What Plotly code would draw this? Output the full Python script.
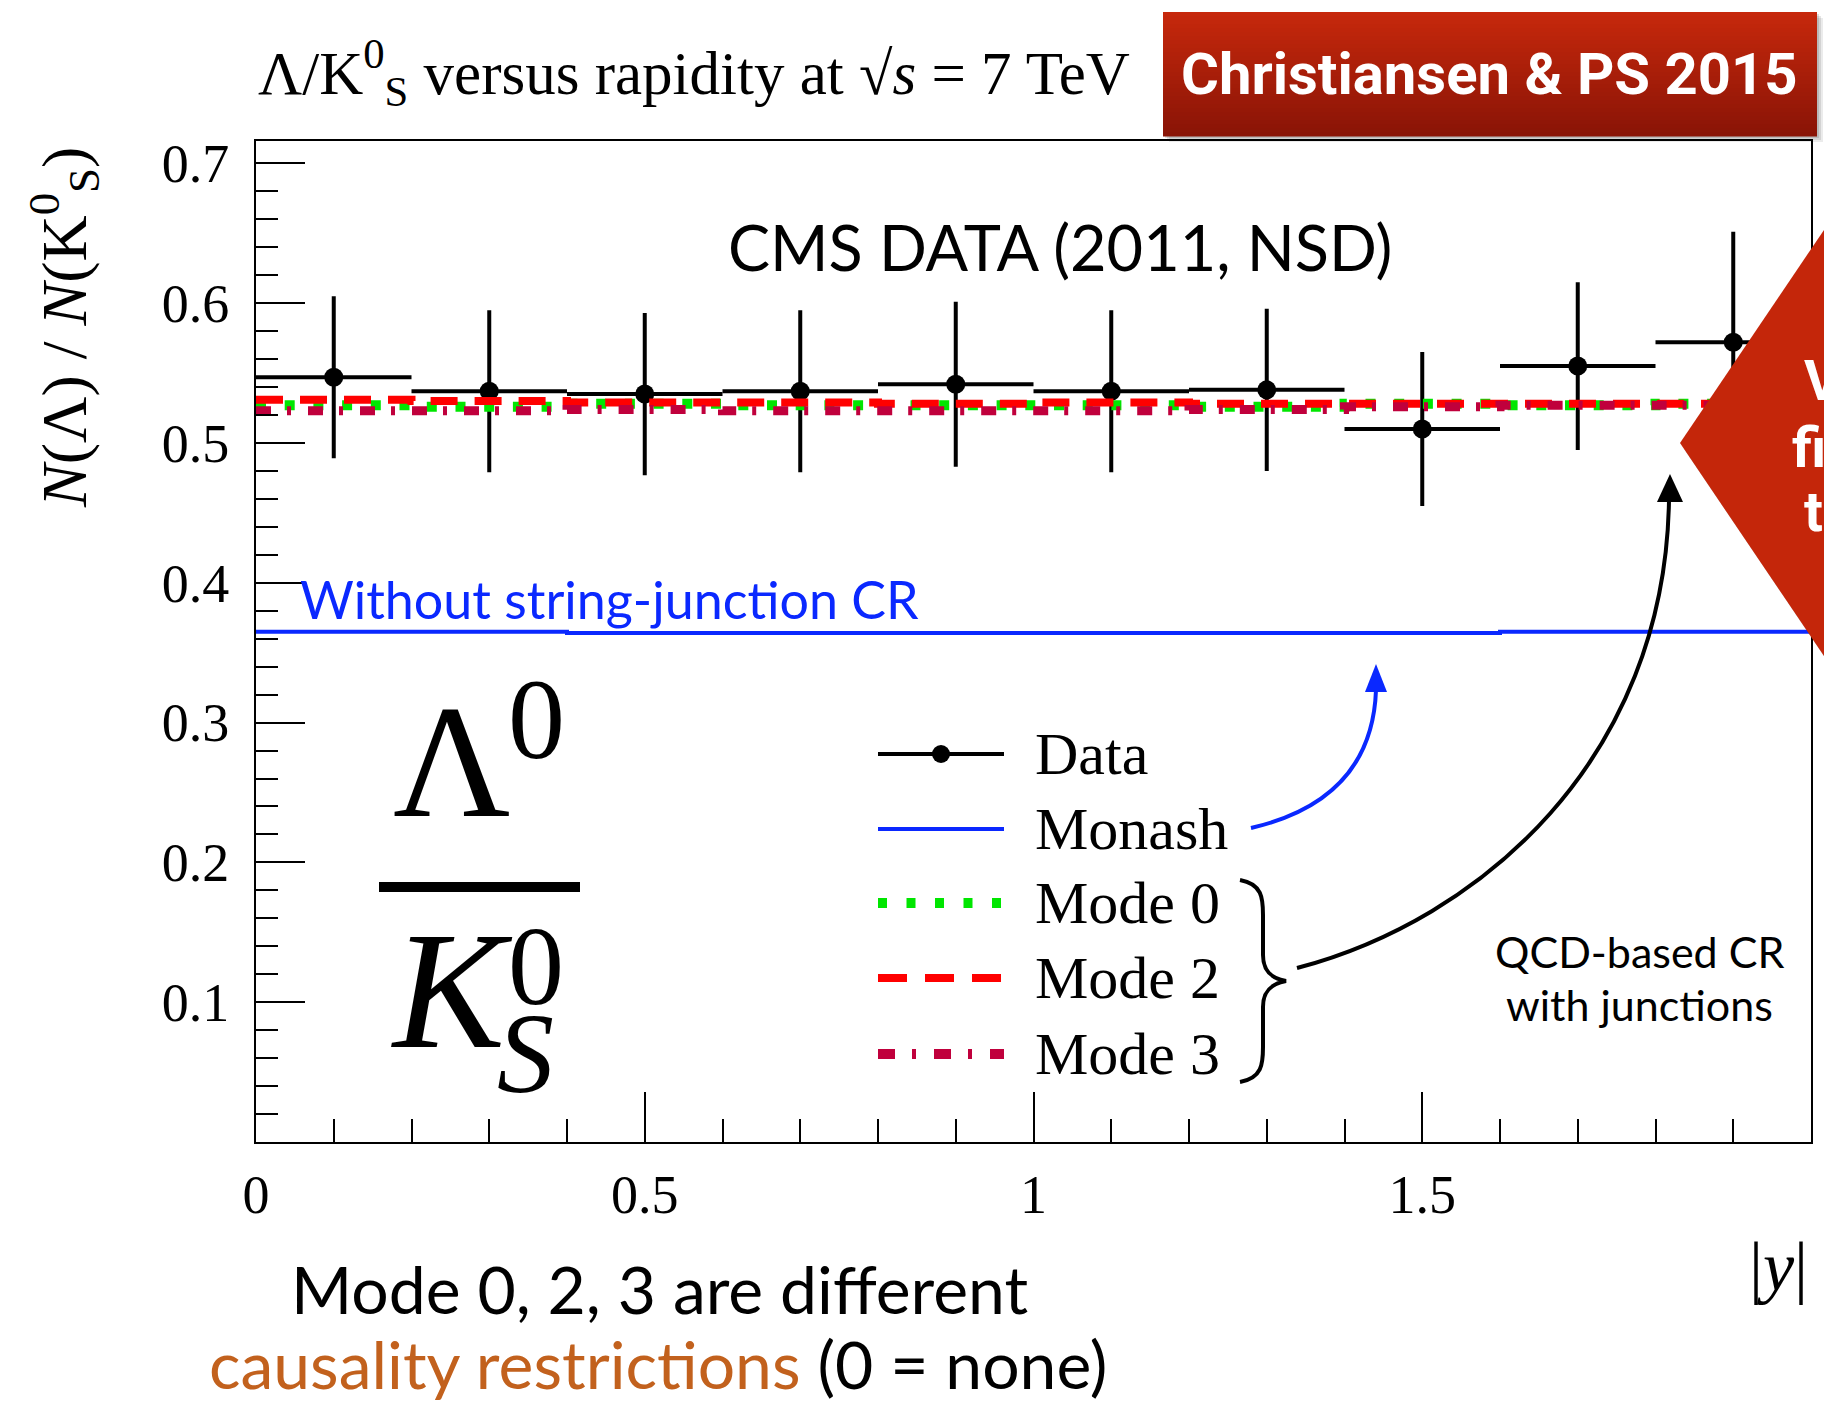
import plotly.graph_objects as go

# ---------------- data ----------------
bin_centers = [0.1, 0.3, 0.5, 0.7, 0.9, 1.1, 1.3, 1.5, 1.7, 1.9]
bin_edges = [0.0, 0.2, 0.4, 0.6, 0.8, 1.0, 1.2, 1.4, 1.6, 1.8, 2.0]
bin_halfwidth = 0.1

data_vals = [0.547, 0.537, 0.535, 0.537, 0.542, 0.537, 0.538, 0.510, 0.555, 0.572]
data_errs = [0.058, 0.058, 0.058, 0.058, 0.059, 0.058, 0.058, 0.055, 0.060, 0.079]

monash_vals = [0.365, 0.365, 0.364, 0.364, 0.364, 0.364, 0.364, 0.364, 0.365, 0.365]
mode0_vals = [0.527, 0.526, 0.528, 0.527, 0.527, 0.527, 0.526, 0.528, 0.527, 0.528]
mode2_vals = [0.531, 0.530, 0.529, 0.529, 0.528, 0.529, 0.528, 0.528, 0.528, 0.528]
mode3_vals = [0.523, 0.523, 0.524, 0.523, 0.523, 0.523, 0.524, 0.526, 0.527, 0.527]

x_tick_vals = [0, 0.5, 1, 1.5, 2]
x_tick_text = ["0", "0.5", "1", "1.5", "2"]
y_tick_vals = [0.1, 0.2, 0.3, 0.4, 0.5, 0.6, 0.7]
y_tick_text = ["0.1", "0.2", "0.3", "0.4", "0.5", "0.6", "0.7"]

legend_names = ["Data", "Monash", "Mode 0", "Mode 2", "Mode 3"]

# ---------------- styling ----------------
W, H = 1824, 1403
L, R, T, B = 256, 1811, 141, 1142
SERIF = "Liberation Serif"
SANS = "Lato"
BLUE = "#0a28ff"
GREEN = "#00e600"
RED = "#ff0000"
CRIMSON = "#c0003c"
BRICK = "#c4260a"
ORANGE = "#c2611d"


def px(x):
    return (x - L) / (R - L)


def py(y):
    return (B - y) / (B - T)


def step(vals):
    return vals + [vals[-1]]


fig = go.Figure()
fig.add_trace(go.Scatter(x=bin_edges, y=step(monash_vals), mode="lines",
                         line=dict(color=BLUE, width=4, shape="hv")))
fig.add_trace(go.Scatter(
    x=bin_centers, y=data_vals, mode="markers",
    marker=dict(color="black", size=19),
    error_y=dict(type="data", array=data_errs, symmetric=True, color="black", thickness=4, width=0),
    error_x=dict(type="constant", value=bin_halfwidth, color="black", thickness=4, width=0)))
fig.add_trace(go.Scatter(x=bin_edges, y=step(mode0_vals), mode="lines",
                         line=dict(color=GREEN, width=10, shape="hv", dash="10px,18.7px")))
fig.add_trace(go.Scatter(x=bin_edges, y=step(mode2_vals), mode="lines",
                         line=dict(color=RED, width=8, shape="hv", dash="27px,17px")))
fig.add_trace(go.Scatter(x=bin_edges, y=step(mode3_vals), mode="lines",
                         line=dict(color=CRIMSON, width=9, shape="hv", dash="15px,16px,4px,17px")))

shapes = []
annotations = []


def ann(text, x, y, size, family=SANS, color="black", xanchor="center", yanchor="middle", angle=0):
    annotations.append(dict(text=text, x=px(x), y=py(y), xref="paper", yref="paper",
                            showarrow=False, xanchor=xanchor, yanchor=yanchor, textangle=angle,
                            font=dict(family=family, size=size, color=color)))


def path(d, color, width=0, fill=None):
    s = dict(type="path", path=d, xref="paper", yref="paper", layer="above",
             line=dict(color=color, width=width))
    if fill:
        s["fillcolor"] = fill
    if width == 0:
        s["line"] = dict(width=0)
    shapes.append(s)


def P(x, y):
    return f"{px(x):.5f},{py(y):.5f}"


# red header box with shadow and vertical gradient
for off, a in [(6, 0.08), (4, 0.10), (2, 0.12)]:
    shapes.append(dict(type="rect", xref="paper", yref="paper", layer="above",
                       x0=px(1163 + off), x1=px(1817 + off), y0=py(12 + off), y1=py(136 + off),
                       line=dict(width=0), fillcolor=f"rgba(0,0,0,{a})"))
n_strips = 31
top_c, bot_c = (198, 40, 12), (138, 20, 6)
for i in range(n_strips):
    t = i / (n_strips - 1)
    c = tuple(round(top_c[k] + (bot_c[k] - top_c[k]) * t) for k in range(3))
    y0 = 12 + (136 - 12) * i / n_strips
    y1 = 12 + (136 - 12) * (i + 1) / n_strips
    shapes.append(dict(type="rect", xref="paper", yref="paper", layer="above",
                       x0=px(1163), x1=px(1817), y0=py(y0), y1=py(y1 + 0.6),
                       line=dict(width=0), fillcolor=f"rgb{c}"))

# diamond (with a soft shadow)
path(f"M {P(1684,449)} L {P(1984,5)} L {P(2284,449)} L {P(1984,893)} Z", "rgba(0,0,0,0)", 0,
     fill="rgba(0,0,0,0.18)")
path(f"M {P(1680,443)} L {P(1980,-1)} L {P(2280,443)} L {P(1980,887)} Z", BRICK, 0, fill=BRICK)

# fraction bar
shapes.append(dict(type="line", xref="paper", yref="paper", layer="above",
                   x0=px(379), x1=px(580), y0=py(887), y1=py(887), line=dict(color="black", width=10)))

# manual legend keys
leg_x0, leg_x1 = 878, 1004
leg_y = [754, 829, 903, 978, 1054]
shapes.append(dict(type="line", xref="paper", yref="paper", layer="above", x0=px(leg_x0), x1=px(leg_x1),
                   y0=py(leg_y[0]), y1=py(leg_y[0]), line=dict(color="black", width=4)))
shapes.append(dict(type="circle", xref="paper", yref="paper", layer="above",
                   x0=px(941 - 9), x1=px(941 + 9), y0=py(leg_y[0] - 9), y1=py(leg_y[0] + 9),
                   fillcolor="black", line=dict(width=0)))
shapes.append(dict(type="line", xref="paper", yref="paper", layer="above", x0=px(leg_x0), x1=px(leg_x1),
                   y0=py(leg_y[1]), y1=py(leg_y[1]), line=dict(color=BLUE, width=4)))
shapes.append(dict(type="line", xref="paper", yref="paper", layer="above", x0=px(leg_x0), x1=px(leg_x1),
                   y0=py(leg_y[2]), y1=py(leg_y[2]), line=dict(color=GREEN, width=10, dash="9px,19.5px")))
shapes.append(dict(type="line", xref="paper", yref="paper", layer="above", x0=px(leg_x0), x1=px(leg_x1),
                   y0=py(leg_y[3]), y1=py(leg_y[3]), line=dict(color=RED, width=8, dash="29px,18px")))
shapes.append(dict(type="line", xref="paper", yref="paper", layer="above", x0=px(leg_x0), x1=px(leg_x1),
                   y0=py(leg_y[4]), y1=py(leg_y[4]), line=dict(color=CRIMSON, width=10, dash="17px,17px,4px,18px")))
for name, yy in zip(legend_names, leg_y):
    ann(name, 1033, yy, 60, family=SERIF, xanchor="left")

# brace
path(f"M {P(1240,880)} C {P(1262,884)} {P(1263,898)} {P(1263,915)} L {P(1263,955)} "
     f"C {P(1263,970)} {P(1270,978)} {P(1286,981)} C {P(1270,984)} {P(1263,992)} {P(1263,1007)} "
     f"L {P(1263,1047)} C {P(1263,1064)} {P(1262,1078)} {P(1240,1082)}", "black", 4)

# blue curved arrow
path(f"M {P(1251,828)} Q {P(1372,800)} {P(1376,690)}", BLUE, 4)
path(f"M {P(1376,664)} L {P(1365,692)} L {P(1387,692)} Z", BLUE, 0, fill=BLUE)

# black curved arrow
path(f"M {P(1297,968)} C {P(1480,920)} {P(1665,760)} {P(1669,500)}", "black", 4)
path(f"M {P(1670,474)} L {P(1657,502)} L {P(1683,502)} Z", "black", 0, fill="black")

# ---------------- texts ----------------
ann("Λ/K<sup>0</sup><sub>S</sub> versus rapidity at √<i>s</i> = 7 TeV", 694, 72, 61, family=SERIF)
ann("<b>Christiansen & PS 2015</b>", 1489, 74, 58, family="Roboto", color="white")
ann("CMS DATA (2011, NSD)", 1060, 247, 63)
ann("Without string-junction CR", 298, 599, 52, color=BLUE, xanchor="left")
ann("Λ", 451, 761, 162, family=SERIF)
ann("0", 536, 719, 114, family=SERIF)
ann("<i>K</i>", 452, 990, 168, family=SERIF)
ann("0", 536, 966, 112, family=SERIF)
ann("<i>S</i>", 525, 1053, 114, family=SERIF)
ann("QCD-based CR", 1639, 951, 43)
ann("with junctions", 1639, 1004, 43)
ann("|<i>y</i>|", 1778, 1266, 70, family=SERIF)
ann("<i>N</i>(Λ) / <i>N</i>(K<sup>0</sup><sub>S</sub>)", 64, 328, 64, family=SERIF, angle=-90)
ann("Mode 0, 2, 3 are different", 289, 1288, 66, xanchor="left")
ann(f"<span style='color:{ORANGE}'>causality restrictions</span> (0 = none)", 207, 1363, 66, xanchor="left")
ann("<b>V</b>", 1802, 381, 56, family="Roboto", color="white", xanchor="left")
ann("<b>fi</b>", 1790, 448, 56, family="Roboto", color="white", xanchor="left")
ann("<b>t</b>", 1802, 512, 56, family="Roboto", color="white", xanchor="left")

axis_common = dict(showline=True, linecolor="black", linewidth=2, mirror=True, ticks="inside",
                   tickcolor="black", tickwidth=2, showgrid=False, zeroline=False,
                   tickfont=dict(family=SERIF, size=54, color="black"))

fig.update_layout(
    width=W, height=H,
    margin=dict(l=L, r=W - R, t=T, b=H - B, pad=0),
    paper_bgcolor="white", plot_bgcolor="white",
    showlegend=False,
    xaxis=dict(range=[0, 2], tickmode="array", tickvals=x_tick_vals, ticktext=x_tick_text,
               ticklen=50, ticklabelstandoff=4,
               minor=dict(tickmode="linear", tick0=0, dtick=0.1, ticks="inside", ticklen=23,
                          tickwidth=2, tickcolor="black", showgrid=False),
               **axis_common),
    yaxis=dict(range=[0, 0.716], tickmode="array", tickvals=y_tick_vals, ticktext=y_tick_text,
               ticklen=49, ticklabelstandoff=14,
               minor=dict(tickmode="linear", tick0=0, dtick=0.02, ticks="inside", ticklen=22,
                          tickwidth=2, tickcolor="black", showgrid=False),
               **axis_common),
    shapes=shapes,
    annotations=annotations,
)

fig.write_html("out.html", config={"displayModeBar": False},
               post_script="document.body.style.margin='0px';")
